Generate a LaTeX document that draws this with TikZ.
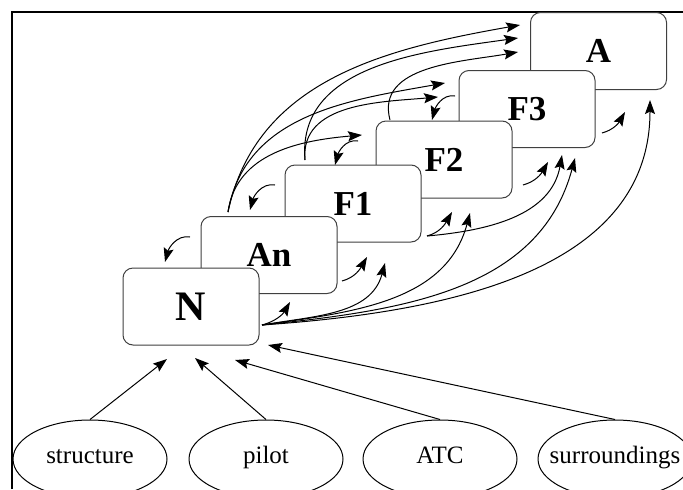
\documentclass[tikz,border=0pt]{standalone}
\usepackage{fontspec}
\setmainfont{Liberation Serif}
\usetikzlibrary{arrows.meta,shapes.geometric}

\begin{document}
\begin{tikzpicture}[x = 0.5pt, y = 0.5pt, line width = 0.5pt,
    >= {Stealth[length = 7pt, width = 5pt, inset = 1.2pt]},
    stage/.style = {shape = rectangle, rounded corners = 5pt, draw = black!75, fill = white,
        minimum width = 68pt, minimum height = 38.5pt, font = \bfseries\fontsize{17.5}{20}\selectfont},
    source/.style = {shape = ellipse, draw, inner sep = 0pt, minimum width = 77pt, minimum height = 39pt,
        label = {[font = \fontsize{12.5}{15}\selectfont, text height = 0.7em, text depth = 0.25em]center:#1}}]
    \useasboundingbox (0,0) rectangle (683,489);
    \draw[line width = 1pt] (12,0) -- (12,477) -- (683,477);

    % stages, back to front
    \node[stage] (A)  at (598.5,438) {A};
    \node[stage] (F3) at (527,380) {F3};
    \node[stage] (F2) at (444,329.5) {F2};
    \node[stage] (F1) at (353,285.5) {F1};
    \node[stage] (An) at (269,234) {An};
    \node[stage, font = \bfseries\fontsize{21}{24}\selectfont] (N) at (191,182.5) {N};

    \node[source = structure]    (str) at (90,30) {};
    \node[source = pilot]        (pil) at (266,30) {};
    \node[source = ATC]          (atc) at (440,30) {};
    \node[source = surroundings] (sur) at (615,30) {};

    % inputs of N
    \coordinate (N-1) at (167,130);
    \coordinate (N-2) at (195,131);
    \coordinate (N-3) at (235,129);
    \coordinate (N-4) at (268,144);
    \draw[->] (str.north) -- (N-1);
    \draw[->] (pil.north) -- (N-2);
    \draw[->] (atc.north) -- (N-3);
    \draw[->] (sur.north) -- (N-4);

    % forward
    \coordinate (N-o)  at (262,164);
    \coordinate (An-o) at (342,208);
    \coordinate (F1-o) at (427,253);
    \coordinate (F2-o) at (523,304);
    \coordinate (F3-o) at (602,356);
    \coordinate (N-An) at (290,187);
    \coordinate (N-F1) at (385,226);
    \coordinate (N-F2) at (470,276);
    \coordinate (N-F3) at (575,331);
    \coordinate (N-A)  at (650,389);
    \coordinate (An-F1) at (367,232);
    \coordinate (F1-F2) at (452,277);
    \coordinate (F1-F3) at (562,334);
    \coordinate (F2-F3) at (548,327);
    \coordinate (F3-A)  at (625,377);
    \draw[->] (N-o) to[out = 15, in = -120] (N-An);
    \draw[->] (N-o) to[out = 10, in = -105] (N-F1);
    \draw[->] (N-o) to[out = 8, in = -105] (N-F2);
    \draw[->] (N-o) to[out = 6, in = -105] (N-F3);
    \draw[->] (N-o) to[out = 4, in = -90] (N-A);
    \draw[->] (An-o) to[out = 15, in = -120] (An-F1);
    \draw[->] (F1-o) to[out = 15, in = -120] (F1-F2);
    \draw[->] (F1-o) to[out = 5, in = -100] (F1-F3);
    \draw[->] (F2-o) to[out = 15, in = -120] (F2-F3);
    \draw[->] (F3-o) to[out = 15, in = -120] (F3-A);

    % backward
    \coordinate (An-b) at (190,252);
    \coordinate (F1-b) at (275,304);
    \coordinate (F2-b) at (358,348);
    \coordinate (F3-b) at (455,393);
    \coordinate (An-N)  at (165,227);
    \coordinate (F1-An) at (250,279);
    \coordinate (F2-F1) at (335,324);
    \coordinate (F3-F2) at (432,369);
    \draw[->] (An-b) to[out = 170, in = 75] (An-N);
    \draw[->] (F1-b) to[out = 170, in = 75] (F1-An);
    \draw[->] (F2-b) to[out = 170, in = 75] (F2-F1);
    \draw[->] (F3-b) to[out = 170, in = 75] (F3-F2);

    \coordinate (An-u) at (228,277);
    \coordinate (F1-u) at (305,329);
    \coordinate (F2-u) at (390,369);
    \coordinate (An-F2) at (362,354);
    \coordinate (An-F3) at (445,406);
    \coordinate (An-A)  at (520,464);
    \coordinate (F1-F3b) at (438,392);
    \coordinate (F1-A)  at (518,451);
    \coordinate (F2-A)  at (518,437);
    \draw[->] (An-u) to[out = 82, in = 185] (An-F2);
    \draw[->] (An-u) to[out = 80, in = 190] (An-F3);
    \draw[->] (An-u) to[out = 78, in = 190] (An-A);
    \draw[->] (F1-u) to[out = 95, in = 185] (F1-F3b);
    \draw[->] (F1-u) to[out = 95, in = 188] (F1-A);
    \draw[->] (F2-u) to[out = 105, in = 190] (F2-A);
\end{tikzpicture}
\end{document}
